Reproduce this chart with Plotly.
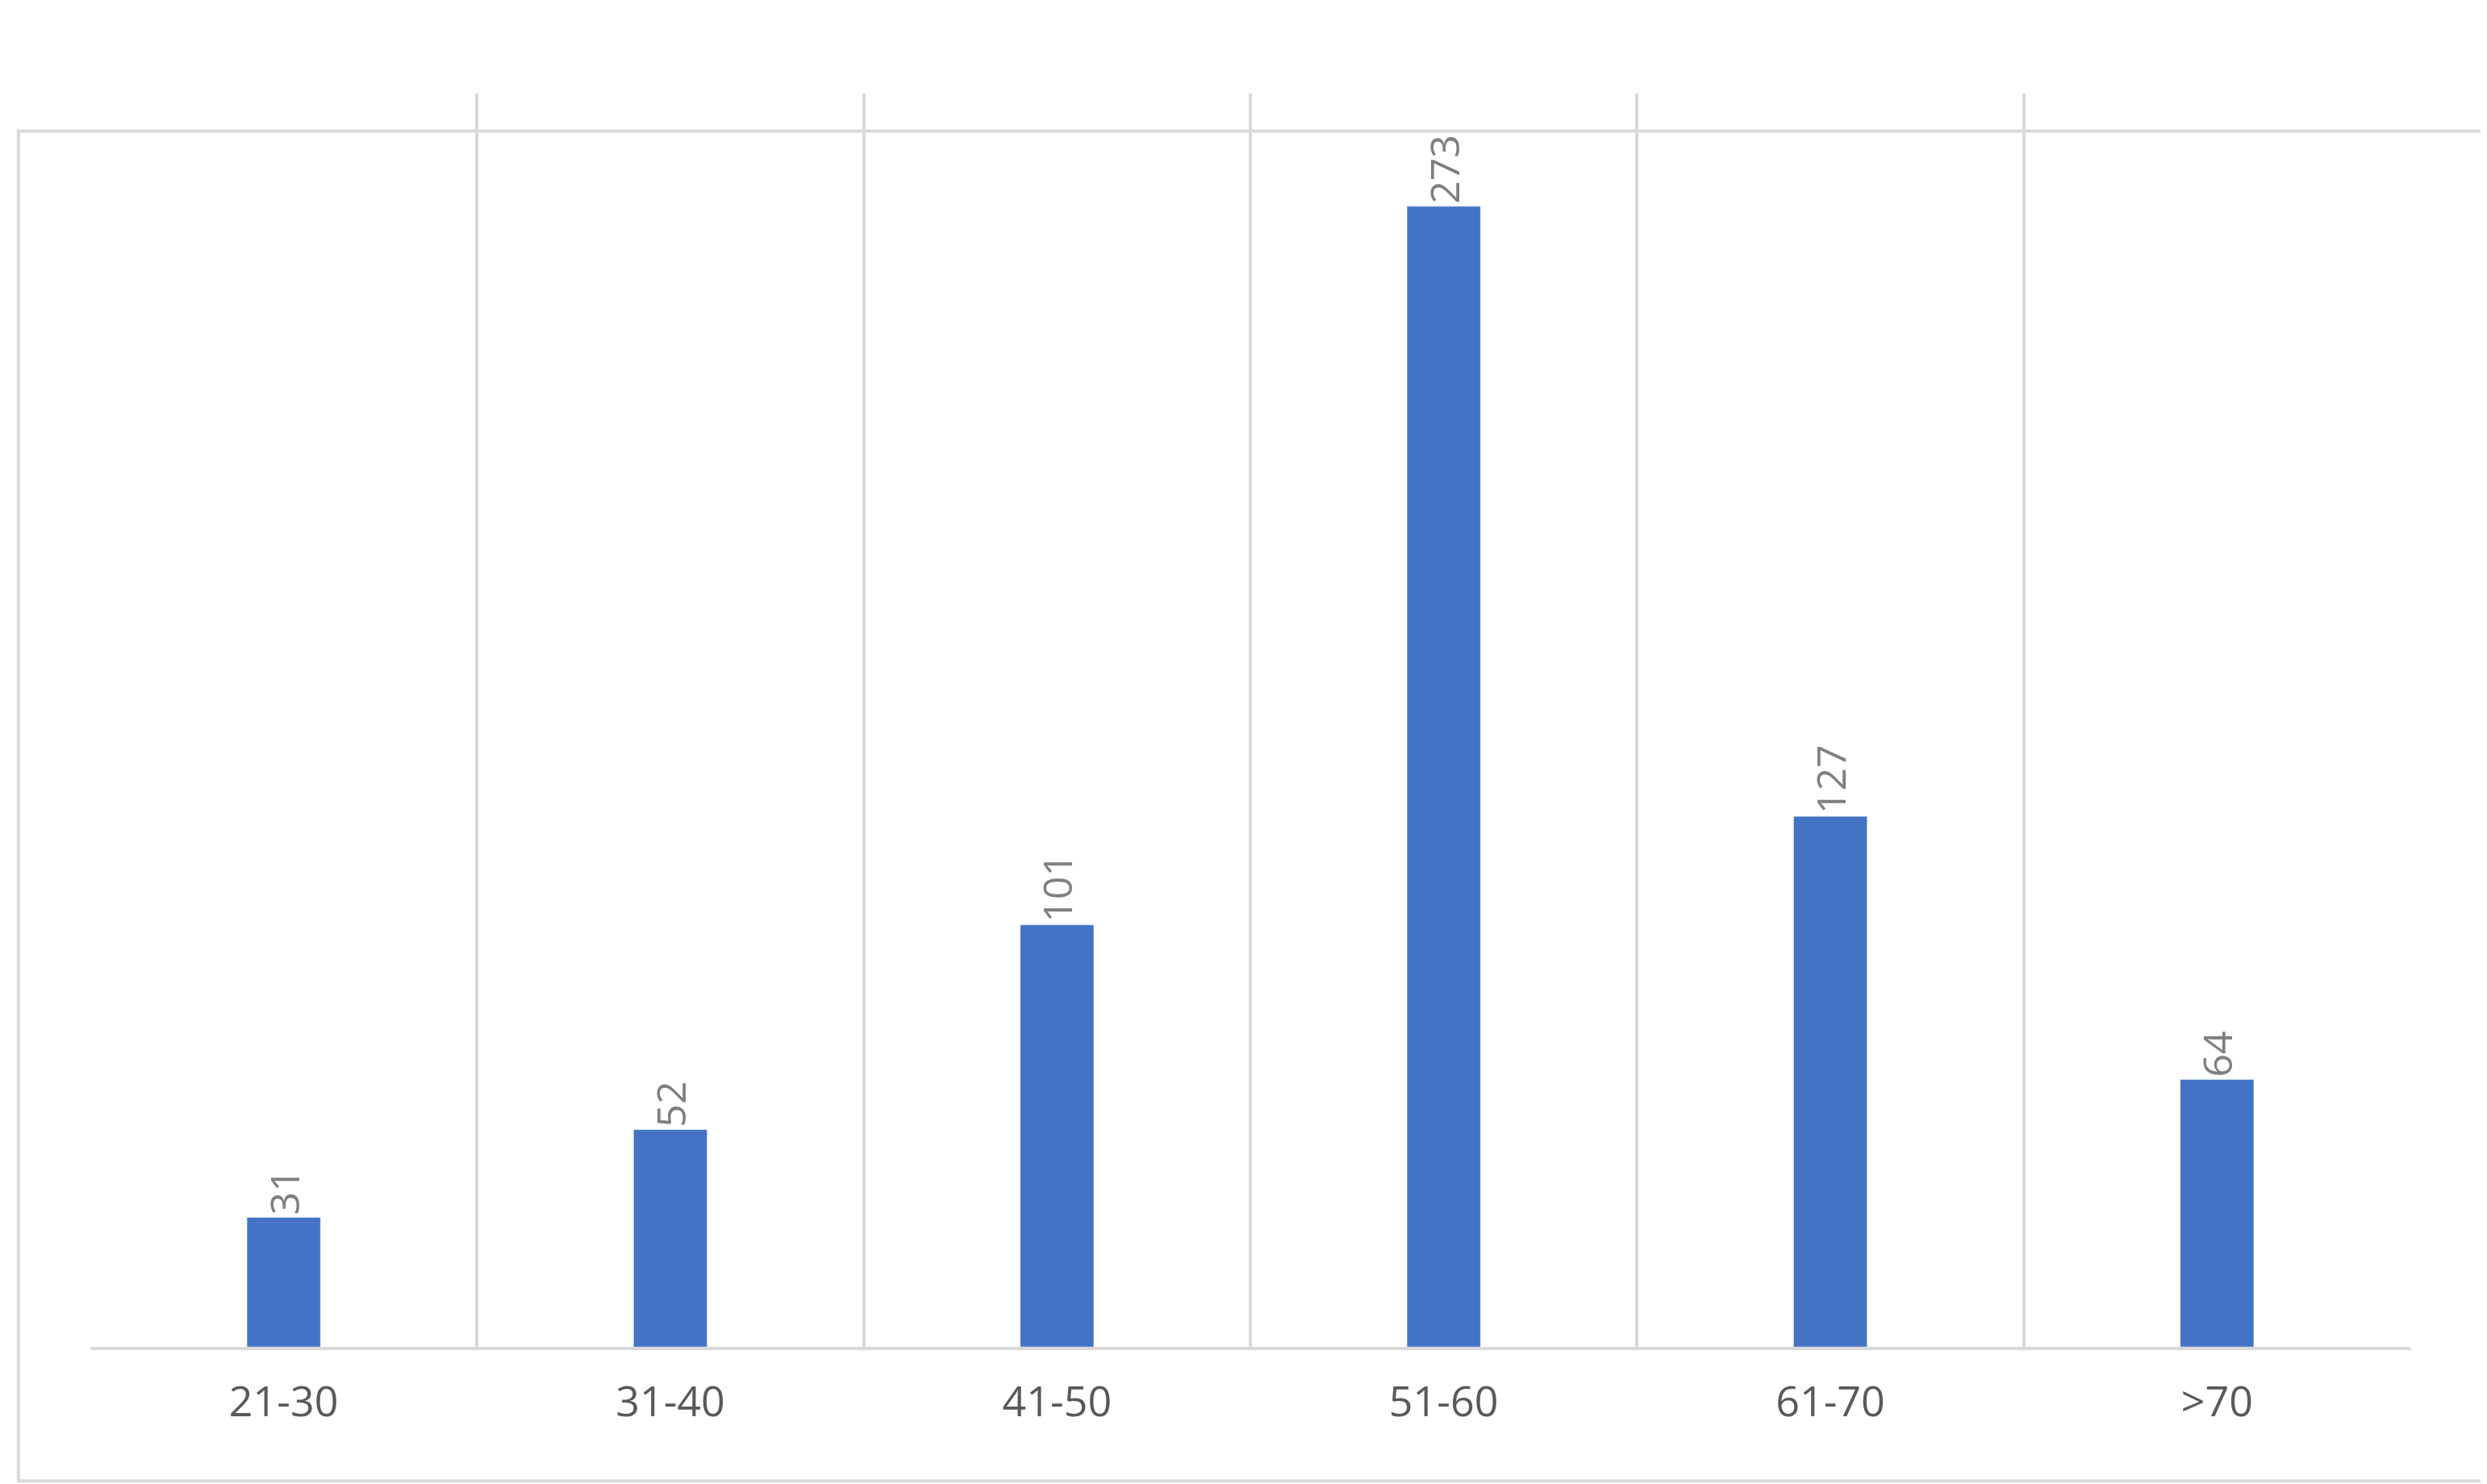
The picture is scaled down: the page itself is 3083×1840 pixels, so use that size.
import plotly.graph_objects as go

categories = ["21-30", "31-40", "41-50", "51-60", "61-70", ">70"]
values = [31, 52, 101, 273, 127, 64]

fig = go.Figure(go.Bar(
    x=categories, y=values, width=0.19, marker_color="#4472C4",
    text=[str(v) for v in values], textposition="outside", textangle=-90,
    textfont=dict(size=50, color="#7F7F7F", family="Open Sans"),
    cliponaxis=False,
))
fig.update_layout(
    width=3083, height=1840, plot_bgcolor="white", paper_bgcolor="white",
    margin=dict(l=104, r=103, t=108, b=178), showlegend=False,
    font=dict(family="Open Sans", color="#595959"),
    shapes=[dict(type="rect", xref="paper", yref="paper", x0=-0.031, x1=1.033,
                 y0=-0.107, y1=0.97, line=dict(color="#D9D9D9", width=4))],
)
fig.update_xaxes(type="category", tickson="boundaries", showgrid=True,
                 gridcolor="#D9D9D9", gridwidth=4, showline=True,
                 linecolor="#D9D9D9", linewidth=4, ticks="",
                 tickfont=dict(size=52, color="#595959"), ticklabelstandoff=20,
                 range=[-0.5, 5.5])
fig.update_yaxes(range=[0, 300], showgrid=False, showticklabels=False,
                 zeroline=False)
fig.write_html("out.html")
